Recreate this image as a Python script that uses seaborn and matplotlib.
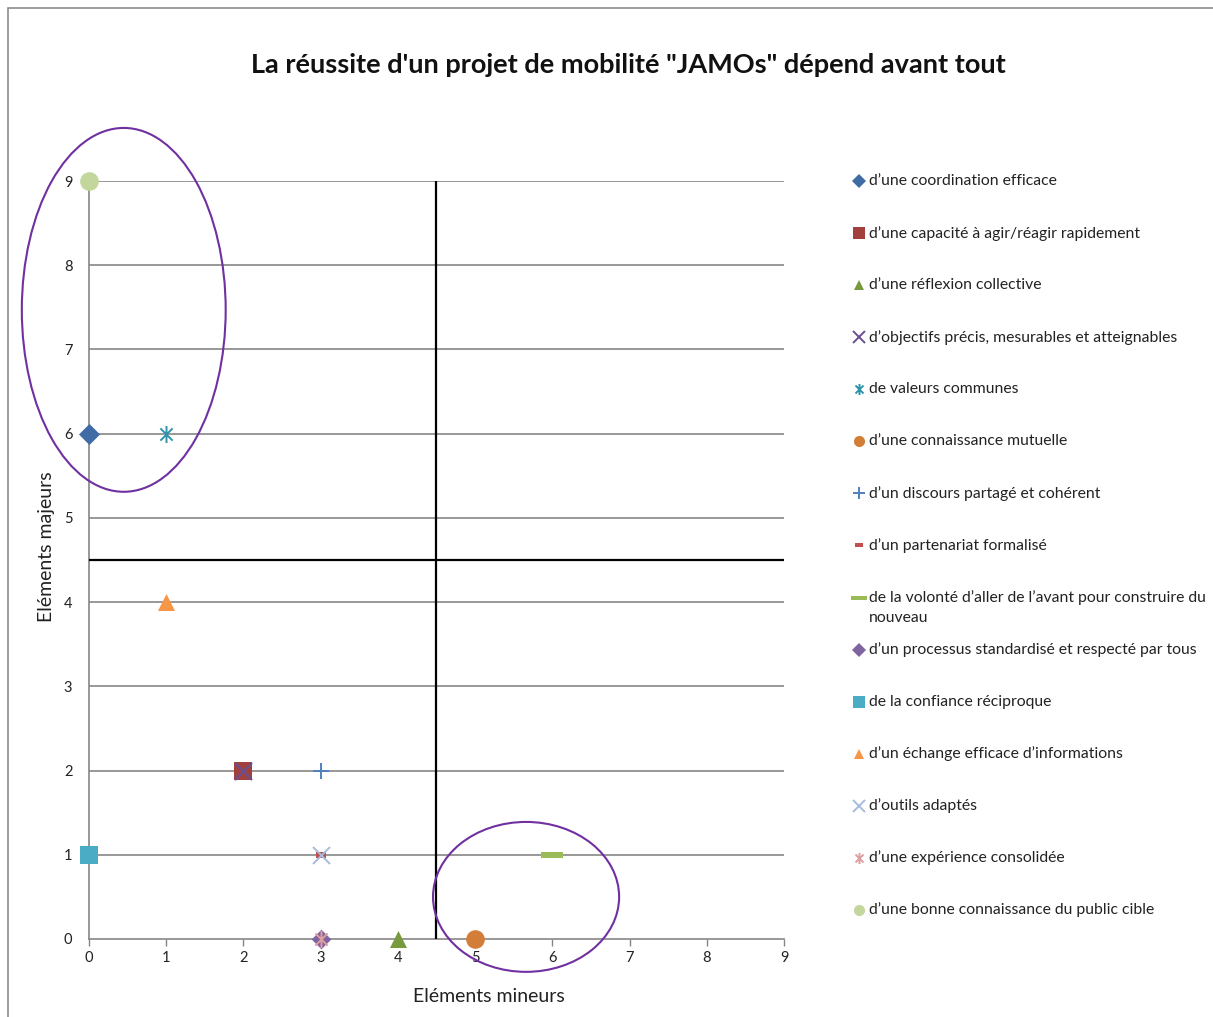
import numpy as np
import pandas as pd
import matplotlib
matplotlib.use("Agg")
import matplotlib.pyplot as plt
from matplotlib.patches import Ellipse, Rectangle
from matplotlib.lines import Line2D
from matplotlib.path import Path
import seaborn as sns

# --- data -------------------------------------------------------------
labels = [
    "d’une coordination efficace",
    "d’une capacité à agir/réagir rapidement",
    "d’une réflexion collective",
    "d’objectifs précis, mesurables et atteignables",
    "de valeurs communes",
    "d’une connaissance mutuelle",
    "d’un discours partagé et cohérent",
    "d’un partenariat formalisé",
    "de la volonté d’aller de l’avant pour construire du\nnouveau",
    "d’un processus standardisé et respecté par tous",
    "de la confiance réciproque",
    "d’un échange efficace d’informations",
    "d’outils adaptés",
    "d’une expérience consolidée",
    "d’une bonne connaissance du public cible",
]
minor_votes = [0, 2, 4, 2, 1, 5, 3, 3, 6, 3, 0, 1, 3, 3, 0]
major_votes = [6, 2, 0, 2, 6, 0, 2, 1, 1, 0, 1, 4, 1, 0, 9]

title = "La réussite d'un projet de mobilité \"JAMOs\" dépend avant tout"
xlabel = "Eléments mineurs"
ylabel = "Eléments majeurs"
ticks = list(range(10))

# --- styles -----------------------------------------------------------
asterisk = Path(
    [(0, -1), (0, 1), (-0.72, -0.72), (0.72, 0.72), (-0.72, 0.72), (0.72, -0.72)],
    [Path.MOVETO, Path.LINETO, Path.MOVETO, Path.LINETO, Path.MOVETO, Path.LINETO],
)
short_dash = [(-1, -0.5), (1, -0.5), (1, 0.5), (-1, 0.5), (-1, -0.5)]
long_dash = [(-1, -0.25), (1, -0.25), (1, 0.25), (-1, 0.25), (-1, -0.25)]

colors = ["#3F6CA5", "#A2403D", "#789A3E", "#6A4F8E", "#2F94AB", "#D27E38",
          "#4F81BD", "#C0504D", "#9BBB59", "#8064A2", "#4BACC6", "#F79646",
          "#A7BBDD", "#DDA09E", "#C3D69B"]
markers = ["D", "s", "^", "x", asterisk, "o", "+", short_dash, long_dash,
           "D", "s", "^", "x", asterisk, "o"]
sizes = [115, 170, 150, 150, 150, 180, 130, 60, 230, 100, 170, 150, 150, 150, 180]
line_widths = [0, 0, 0, 1.6, 1.4, 0, 1.4, 0, 0, 0, 0, 0, 1.4, 1.4, 0]
legend_sizes = [7, 8, 7, 8, 8, 8, 8, 6, 12, 7, 8, 7, 8, 8, 8]

sns.set_theme(style="white")
plt.rcParams["font.family"] = ["Lato", "DejaVu Sans"]

W, H = 1213, 1017
fig = plt.figure(figsize=(W / 100, H / 100), dpi=100)


def fx(px):
    return px / W


def fy(py):
    return 1 - py / H


ax_left, ax_right, ax_top, ax_bottom = 89, 784, 181, 939
ax = fig.add_axes([fx(ax_left), fy(ax_bottom), fx(ax_right) - fx(ax_left),
                   fy(ax_top) - fy(ax_bottom)])

df = pd.DataFrame({"label": labels, "minor": minor_votes, "major": major_votes})

for i, row in df.iterrows():
    sns.scatterplot(
        x=[row["minor"]], y=[row["major"]], ax=ax,
        marker=markers[i], s=sizes[i], color=colors[i],
        edgecolor=colors[i], linewidth=line_widths[i],
        clip_on=False, zorder=5 + i, legend=False,
    )

ax.set_xlim(0, 9)
ax.set_ylim(0, 9)
ax.set_xticks(ticks)
ax.set_yticks(ticks)
ax.set_xticklabels([str(t) for t in ticks], fontsize=10.5, color="#222222")
ax.set_yticklabels([str(t) for t in ticks], fontsize=10.5, color="#222222")
ax.tick_params(axis="x", length=5, width=1, color="#868686", direction="out",
               bottom=True, pad=4)
ax.tick_params(axis="y", length=0, pad=12)
ax.grid(False)
for t in ticks[1:]:
    ax.axhline(t, color="#868686", lw=1.2, zorder=1)
for side in ["top", "right"]:
    ax.spines[side].set_visible(False)
for side in ["left", "bottom"]:
    ax.spines[side].set_color("#868686")
    ax.spines[side].set_linewidth(1.2)

# quadrant separators
ax.axvline(4.5, color="black", lw=1.6, zorder=3)
ax.axhline(4.5, color="black", lw=1.6, zorder=3)

# highlighted groups
ax.add_patch(Ellipse((0.45, 7.47), 2.64, 4.32, fill=False, edgecolor="#7030A0",
                     lw=1.5, clip_on=False, zorder=4))
ax.add_patch(Ellipse((5.66, 0.50), 2.41, 1.78, fill=False, edgecolor="#7030A0",
                     lw=1.5, clip_on=False, zorder=4))

ax_w = ax_right - ax_left
ax_h = ax_bottom - ax_top
ax.set_xlabel(xlabel, fontsize=14, color="#222222")
ax.set_ylabel(ylabel, fontsize=14, color="#222222")
ax.xaxis.set_label_coords((489 - ax_left) / ax_w, -(997 - ax_bottom) / ax_h)
ax.yaxis.set_label_coords(-(ax_left - 47) / ax_w, (ax_bottom - 547) / ax_h)
ax.xaxis.label.set_va("center")
ax.yaxis.label.set_va("center")

fig.text(fx(628), fy(65), title, ha="center", va="center",
         fontsize=19.5, fontweight="bold", color="#111111")

# legend column
for i, lab in enumerate(labels):
    y = 181 + 52.07 * i
    fig.add_artist(Line2D([fx(859)], [fy(y)], marker=markers[i], ms=legend_sizes[i],
                          color=colors[i], mec=colors[i], mfc=colors[i],
                          mew=1.4 if line_widths[i] else 0, ls="none",
                          transform=fig.transFigure))
    for k, line in enumerate(lab.split("\n")):
        fig.text(fx(869), fy(y + 20 * k), line, ha="left", va="center",
                 fontsize=11.3, color="#222222")

# chart frame
fig.add_artist(Rectangle((fx(8), -0.02), 1.0, fy(8) + 0.02, fill=False,
                         edgecolor="#8C8C8C", lw=1.2, transform=fig.transFigure))

fig.savefig("out.png", dpi=100)
